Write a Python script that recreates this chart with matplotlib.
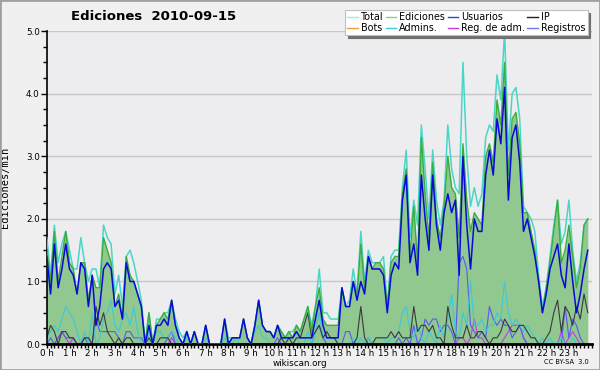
import matplotlib.pyplot as plt
import numpy as np
from matplotlib.lines import Line2D
from matplotlib.patches import Rectangle
from matplotlib.ticker import MultipleLocator, FixedLocator, FixedFormatter

# --- data: edits per minute, one value per 10-minute slot (144 slots) ---
total = [
    1.7, 1.1, 1.9, 1.3, 1.6, 1.8, 1.5, 1.2, 1.2, 1.7, 1.3, 1.0,
    1.2, 1.2, 0.9, 1.9, 1.7, 1.6, 0.8, 1.1, 0.6, 1.4, 1.5, 1.3,
    1.0, 0.7, 0.0, 0.5, 0.0, 0.4, 0.4, 0.5, 0.5, 0.7, 0.4, 0.2,
    0.1, 0.2, 0.0, 0.2, 0.0, 0.0, 0.3, 0.0, 0.0, 0.0, 0.0, 0.4,
    0.1, 0.1, 0.1, 0.1, 0.4, 0.1, 0.0, 0.3, 0.7, 0.3, 0.2, 0.2,
    0.1, 0.3, 0.2, 0.1, 0.2, 0.2, 0.3, 0.2, 0.4, 0.6, 0.3, 0.6,
    1.2, 0.5, 0.5, 0.4, 0.4, 0.4, 0.9, 0.6, 0.7, 1.2, 0.8, 1.8,
    1.0, 1.5, 1.3, 1.3, 1.3, 1.4, 0.6, 1.4, 1.5, 1.5, 2.5, 3.1,
    1.7, 2.3, 1.9, 3.5, 2.8, 2.0, 3.1, 2.3, 1.9, 2.3, 3.5, 2.8,
    2.5, 2.4, 4.5, 3.0, 2.2, 2.5, 2.2, 2.4, 3.3, 3.5, 3.4, 4.3,
    3.9, 5.0, 3.1, 4.0, 4.1, 3.6, 2.2, 2.1, 2.0, 1.8, 1.1, 0.6,
    0.9, 1.4, 1.9, 2.3, 1.6, 1.8, 2.3, 1.5, 1.0, 1.3, 1.9, 2.0,
]
ediciones = [
    1.5, 1.0, 1.8, 1.0, 1.4, 1.8, 1.3, 1.2, 0.8, 1.3, 1.3, 0.7,
    1.1, 0.9, 0.9, 1.7, 1.5, 1.3, 0.6, 0.8, 0.4, 1.4, 1.1, 1.0,
    0.8, 0.6, 0.0, 0.5, 0.0, 0.3, 0.4, 0.5, 0.4, 0.7, 0.3, 0.1,
    0.0, 0.2, 0.0, 0.2, 0.0, 0.0, 0.3, 0.0, 0.0, 0.0, 0.0, 0.4,
    0.0, 0.1, 0.1, 0.1, 0.4, 0.1, 0.0, 0.3, 0.7, 0.3, 0.2, 0.2,
    0.1, 0.3, 0.2, 0.1, 0.2, 0.1, 0.3, 0.2, 0.4, 0.6, 0.2, 0.6,
    0.9, 0.4, 0.3, 0.3, 0.3, 0.3, 0.9, 0.6, 0.6, 1.0, 0.8, 1.6,
    0.9, 1.4, 1.2, 1.3, 1.3, 1.2, 0.6, 1.3, 1.4, 1.4, 2.4, 2.8,
    1.4, 2.2, 1.3, 3.3, 2.4, 1.7, 2.9, 2.0, 1.7, 2.2, 3.0, 2.5,
    2.4, 1.7, 3.2, 2.3, 1.8, 2.1, 2.0, 1.9, 3.0, 3.2, 2.9, 3.9,
    3.5, 4.5, 2.7, 3.6, 3.7, 3.2, 2.1, 2.1, 1.8, 1.5, 1.0, 0.5,
    0.9, 1.3, 1.8, 2.3, 1.3, 1.5, 1.9, 1.4, 0.9, 1.2, 1.9, 2.0,
]
usuarios = [
    1.4, 0.8, 1.6, 0.9, 1.2, 1.6, 1.2, 1.1, 0.8, 1.3, 1.2, 0.6,
    1.1, 0.3, 0.6, 1.2, 1.3, 1.2, 0.6, 0.7, 0.4, 1.3, 1.0, 1.0,
    0.8, 0.6, 0.0, 0.3, 0.0, 0.3, 0.3, 0.4, 0.3, 0.7, 0.3, 0.1,
    0.0, 0.2, 0.0, 0.2, 0.0, 0.0, 0.3, 0.0, 0.0, 0.0, 0.0, 0.4,
    0.0, 0.1, 0.1, 0.1, 0.4, 0.1, 0.0, 0.3, 0.7, 0.3, 0.2, 0.2,
    0.1, 0.3, 0.1, 0.1, 0.1, 0.1, 0.2, 0.1, 0.1, 0.1, 0.1, 0.4,
    0.7, 0.3, 0.1, 0.1, 0.1, 0.1, 0.9, 0.6, 0.6, 1.0, 0.7, 1.0,
    0.8, 1.4, 1.2, 1.2, 1.2, 1.1, 0.5, 1.1, 1.3, 1.2, 2.3, 2.7,
    1.3, 1.6, 1.1, 2.7, 2.0, 1.5, 2.7, 1.9, 1.5, 2.1, 2.4, 2.1,
    2.3, 1.1, 3.0, 1.9, 1.2, 2.0, 1.8, 1.8, 2.7, 3.1, 2.7, 3.6,
    3.2, 4.1, 2.3, 3.3, 3.5, 2.9, 1.8, 2.0, 1.7, 1.4, 1.0, 0.5,
    0.8, 1.2, 1.4, 1.6, 1.1, 0.9, 1.6, 1.0, 0.5, 0.8, 1.2, 1.5,
]
ip = [
    0.1, 0.3, 0.2, 0.0, 0.2, 0.2, 0.1, 0.1, 0.0, 0.0, 0.1, 0.1,
    0.0, 0.6, 0.3, 0.5, 0.2, 0.1, 0.0, 0.1, 0.0, 0.1, 0.1, 0.0,
    0.0, 0.0, 0.0, 0.1, 0.0, 0.0, 0.1, 0.1, 0.1, 0.0, 0.0, 0.0,
    0.0, 0.0, 0.0, 0.0, 0.0, 0.0, 0.0, 0.0, 0.0, 0.0, 0.0, 0.0,
    0.0, 0.0, 0.0, 0.0, 0.0, 0.0, 0.0, 0.0, 0.0, 0.0, 0.0, 0.0,
    0.0, 0.0, 0.1, 0.0, 0.1, 0.0, 0.1, 0.1, 0.3, 0.5, 0.1, 0.2,
    0.3, 0.1, 0.2, 0.1, 0.1, 0.0, 0.0, 0.0, 0.0, 0.0, 0.1, 0.6,
    0.1, 0.0, 0.0, 0.1, 0.1, 0.1, 0.1, 0.2, 0.1, 0.2, 0.1, 0.1,
    0.1, 0.6, 0.2, 0.3, 0.3, 0.2, 0.3, 0.1, 0.1, 0.0, 0.6, 0.3,
    0.1, 0.1, 0.1, 0.3, 0.1, 0.1, 0.2, 0.2, 0.1, 0.0, 0.1, 0.1,
    0.2, 0.4, 0.3, 0.2, 0.2, 0.3, 0.3, 0.2, 0.1, 0.1, 0.0, 0.0,
    0.1, 0.2, 0.5, 0.7, 0.2, 0.6, 0.5, 0.3, 0.6, 0.4, 0.8, 0.5,
]
admins = [
    0.1, 0.2, 0.3, 0.2, 0.4, 0.6, 0.5, 0.4, 0.2, 0.0, 0.2, 0.0,
    0.5, 0.0, 0.1, 0.4, 0.5, 0.7, 0.3, 0.2, 0.4, 0.5, 0.3, 0.6,
    0.2, 0.0, 0.0, 0.2, 0.0, 0.2, 0.2, 0.1, 0.1, 0.2, 0.1, 0.0,
    0.0, 0.1, 0.0, 0.0, 0.0, 0.0, 0.1, 0.0, 0.0, 0.0, 0.0, 0.1,
    0.0, 0.0, 0.1, 0.0, 0.0, 0.0, 0.0, 0.2, 0.3, 0.1, 0.1, 0.0,
    0.0, 0.0, 0.0, 0.0, 0.0, 0.0, 0.1, 0.0, 0.0, 0.2, 0.0, 0.2,
    0.5, 0.1, 0.1, 0.1, 0.1, 0.0, 0.0, 0.0, 0.0, 0.1, 0.0, 0.1,
    0.0, 0.1, 0.0, 0.1, 0.1, 0.1, 0.0, 0.1, 0.1, 0.2, 0.5, 0.6,
    0.2, 0.1, 0.3, 0.1, 0.0, 0.2, 0.1, 0.0, 0.3, 0.1, 0.4, 0.8,
    0.2, 0.1, 0.5, 0.3, 1.0, 0.3, 0.3, 0.4, 0.2, 0.3, 0.3, 0.5,
    0.4, 1.0, 0.5, 0.3, 0.4, 0.3, 0.2, 0.3, 0.2, 0.1, 0.0, 0.1,
    0.0, 0.1, 0.0, 0.0, 0.1, 0.0, 0.0, 0.1, 0.0, 0.0, 0.0, 0.0,
]
registros = [
    0.0, 0.1, 0.0, 0.1, 0.2, 0.1, 0.1, 0.1, 0.0, 0.0, 0.1, 0.0,
    0.0, 0.4, 0.2, 0.2, 0.2, 0.2, 0.2, 0.1, 0.0, 0.2, 0.2, 0.1,
    0.1, 0.1, 0.0, 0.0, 0.0, 0.0, 0.0, 0.0, 0.1, 0.2, 0.0, 0.0,
    0.0, 0.0, 0.0, 0.0, 0.0, 0.0, 0.0, 0.0, 0.0, 0.0, 0.0, 0.0,
    0.0, 0.0, 0.0, 0.0, 0.0, 0.0, 0.0, 0.0, 0.0, 0.0, 0.0, 0.0,
    0.0, 0.1, 0.0, 0.0, 0.0, 0.0, 0.0, 0.0, 0.0, 0.0, 0.0, 0.2,
    0.3, 0.1, 0.0, 0.0, 0.0, 0.0, 0.0, 0.2, 0.2, 0.0, 0.0, 0.0,
    0.0, 0.1, 0.0, 0.0, 0.0, 0.0, 0.0, 0.0, 0.0, 0.1, 0.0, 0.1,
    0.0, 0.3, 0.0, 0.1, 0.4, 0.3, 0.4, 0.4, 0.2, 0.3, 0.3, 0.2,
    0.0, 1.3, 1.4, 1.2, 0.3, 0.2, 0.1, 0.2, 0.1, 0.6, 0.4, 0.3,
    0.4, 0.3, 0.3, 0.1, 0.2, 0.3, 0.1, 0.0, 0.0, 0.0, 0.0, 0.0,
    0.0, 0.0, 0.0, 0.0, 0.0, 0.6, 0.1, 0.4, 0.3, 0.1, 0.0, 0.0,
]
reg_adm = [
    0.0, 0.0, 0.0, 0.1, 0.2, 0.1, 0.0, 0.1, 0.0, 0.0, 0.1, 0.1,
    0.0, 0.0, 0.0, 0.0, 0.0, 0.0, 0.0, 0.0, 0.0, 0.0, 0.0, 0.0,
    0.0, 0.0, 0.0, 0.0, 0.0, 0.0, 0.0, 0.0, 0.0, 0.1, 0.0, 0.0,
    0.0, 0.0, 0.0, 0.0, 0.0, 0.0, 0.0, 0.0, 0.0, 0.0, 0.0, 0.0,
    0.0, 0.0, 0.0, 0.0, 0.0, 0.0, 0.0, 0.0, 0.0, 0.0, 0.0, 0.0,
    0.0, 0.0, 0.0, 0.0, 0.0, 0.0, 0.0, 0.0, 0.0, 0.0, 0.0, 0.0,
    0.0, 0.0, 0.0, 0.0, 0.0, 0.0, 0.0, 0.0, 0.0, 0.0, 0.0, 0.0,
    0.0, 0.0, 0.0, 0.0, 0.0, 0.0, 0.0, 0.0, 0.0, 0.0, 0.0, 0.0,
    0.0, 0.0, 0.0, 0.0, 0.0, 0.0, 0.0, 0.0, 0.0, 0.0, 0.0, 0.0,
    0.0, 0.1, 0.1, 0.0, 0.1, 0.4, 0.1, 0.1, 0.0, 0.0, 0.0, 0.0,
    0.0, 0.1, 0.2, 0.3, 0.3, 0.3, 0.1, 0.0, 0.0, 0.0, 0.0, 0.0,
    0.0, 0.0, 0.0, 0.0, 0.2, 0.0, 0.1, 0.2, 0.1, 0.0, 0.0, 0.0,
]
hour_labels = [f"{h} h" for h in range(24)]

hours = np.arange(len(total)) / 6.0

# --- colours ---
c_total = '#4ad6c6'
c_edic = '#3cac3c'
c_fill = '#90c890'
c_users = '#0a0ad8'
c_ip = '#3a3a3a'
c_bots = '#f39a3a'
c_admins = '#3cc8dc'
c_regadm = '#c83cdc'
c_reg = '#5a5af2'

fig = plt.figure(figsize=(6, 3.7), dpi=100)
fig.patch.set_facecolor('#f0f0f0')
fig.patches.append(Rectangle((0, 0), 1, 1, transform=fig.transFigure, fill=False,
                             edgecolor='#a0a0a0', linewidth=2))
ax = fig.add_axes([0.078, 0.070, 0.908, 0.846])
ax.set_facecolor('#ededf0')

ax.fill_between(hours, ediciones, 0, color=c_fill, linewidth=0, zorder=1)
ax.plot(hours, reg_adm, color=c_regadm, lw=0.8, zorder=2)
ax.plot(hours, registros, color=c_reg, lw=0.8, zorder=2)
ax.plot(hours, admins, color=c_admins, lw=0.8, zorder=2)
ax.plot(hours, ip, color=c_ip, lw=0.8, zorder=2)
ax.plot(hours, total, color=c_total, lw=1.1, zorder=3)
ax.plot(hours, ediciones, color=c_edic, lw=1.0, zorder=3)
ax.plot(hours, usuarios, color=c_users, lw=1.1, zorder=4)

# --- axes ---
ax.set_xlim(0, 24)
ax.set_ylim(0, 5)
for s in ['top', 'right']:
    ax.spines[s].set_visible(False)
ax.spines['left'].set_linewidth(1.2)
ax.spines['bottom'].set_linewidth(2)
ax.yaxis.grid(True, color='#c6c6c6', linewidth=1)
ax.set_axisbelow(True)

ax.xaxis.set_major_locator(FixedLocator(range(24)))
ax.xaxis.set_major_formatter(FixedFormatter(hour_labels))
ax.xaxis.set_minor_locator(MultipleLocator(1 / 6))
ax.tick_params(axis='x', which='both', direction='out', length=3, width=1,
               labelsize=6.3, pad=0.5, color='black')
ax.yaxis.set_major_locator(MultipleLocator(1))
ax.yaxis.set_minor_locator(MultipleLocator(0.25))
ax.yaxis.set_major_formatter(plt.FormatStrFormatter('%.1f'))
ax.tick_params(axis='y', which='major', direction='out', length=4, width=1,
               labelsize=6.3, pad=1)
ax.tick_params(axis='y', which='minor', direction='out', length=3, width=1)
ax.set_ylabel('Ediciones/min', fontsize=7.5, family='DejaVu Sans Mono')
ax.yaxis.set_label_coords(-0.0675, 0.5)

# --- texts ---
fig.text(154 / 600, 1 - 16 / 370, 'Ediciones  2010-09-15', ha='center', va='center',
         fontsize=9.5, fontweight='bold')
fig.text(0.5, 1 - 363 / 370, 'wikiscan.org', ha='center', va='center', fontsize=6.3)
fig.text(589 / 600, 1 - 362.5 / 370, 'CC BY-SA  3.0', ha='right', va='center', fontsize=4.8)

# --- legend (column-wise fill: pairs give the two rows) ---
handles = [
    Line2D([], [], color='#a8e6e6', lw=1), Line2D([], [], color=c_bots, lw=1),
    Line2D([], [], color='#88d088', lw=1), Line2D([], [], color=c_admins, lw=1),
    Line2D([], [], color='#3c3ce0', lw=1), Line2D([], [], color=c_regadm, lw=1),
    Line2D([], [], color='#222222', lw=1), Line2D([], [], color='#7474ee', lw=1),
]
labels = ['Total', 'Bots', 'Ediciones', 'Admins.', 'Usuarios', 'Reg. de adm.', 'IP', 'Registros']
leg = ax.legend(handles, labels, ncol=4, loc='upper left',
                bbox_to_anchor=(345 / 600, 1 - 10 / 370), bbox_transform=fig.transFigure,
                fontsize=6.9, frameon=True, fancybox=False,
                shadow={'color': '#707070', 'alpha': 1},
                handlelength=1.1, handletextpad=0.3, columnspacing=0.25,
                borderpad=0.25, labelspacing=0.05, borderaxespad=0)
leg.get_frame().set_edgecolor('#c0c0c0')
leg.get_frame().set_linewidth(0.8)
leg.get_frame().set_facecolor('white')
leg.set_zorder(10)

plt.savefig('out.png', dpi=100, facecolor=fig.get_facecolor())
